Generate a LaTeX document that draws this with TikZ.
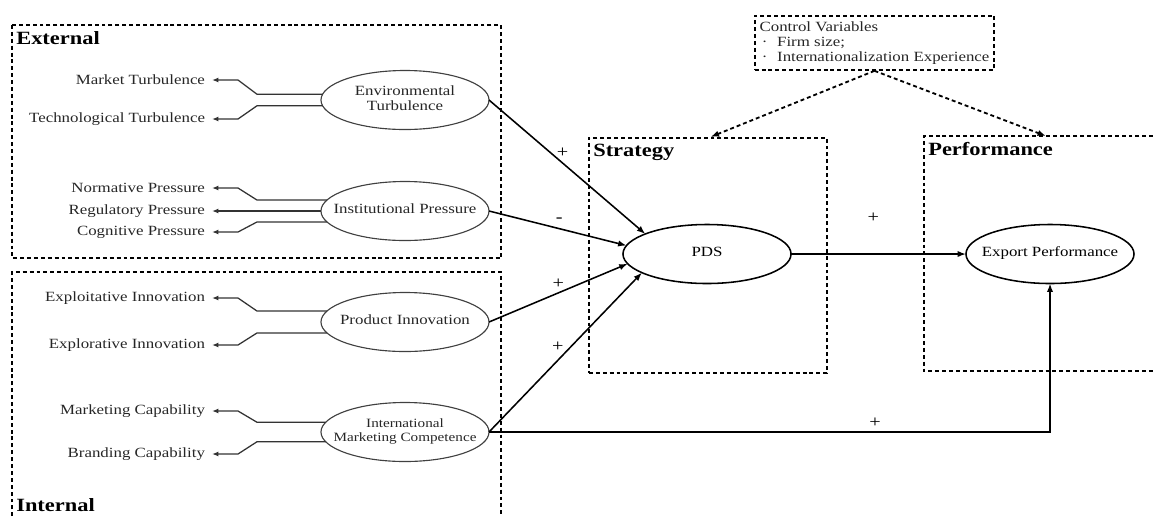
\documentclass[tikz,border=0pt]{standalone}
\usepackage{fontspec}
\setmainfont{Liberation Serif}[FakeStretch=1.2]
\usetikzlibrary{shapes.geometric,arrows.meta}

\newcommand{\inell}[1]{\makebox[0pt]{\begin{tabular}{@{}c@{}}#1\end{tabular}}}

\tikzset{
	grp/.style={draw, line width=1.3pt, dash pattern=on 2.8pt off 2.1pt},
	lat/.style={ellipse, draw=black!75, line width=0.8pt, minimum width=4.2cm, minimum height=1.475cm, inner sep=0pt, outer sep=0pt, text=black!85},
	mainlat/.style={lat, draw=black, line width=1.1pt, text=black},
	ind/.style={anchor=east, inner xsep=5pt, inner ysep=0pt, outer sep=0pt, text=black!85},
	indline/.style={draw=black!80, line width=0.9pt, -{Latex[length=4.5pt,width=3.5pt]}},
	effect/.style={line width=1.1pt, -{Latex[length=6pt,width=4.5pt]}},
	sign/.style={font=\fontsize{12}{12}\selectfont},
	head/.style={anchor=west, inner sep=0pt, font=\bfseries\fontsize{13.3}{15}\selectfont},
}

\begin{document}
\begin{tikzpicture}[x=0.025cm, y=-0.025cm, font=\fontsize{10}{10.6}\selectfont]
	\useasboundingbox (0,0) rectangle (1153,516);

	% groups
	\draw[grp] (12,25) rectangle (501,258);
	\draw[grp] (12,530) -- (12,272) -- (501,272) -- (501,530);
	\node[grp, rectangle, minimum width=5.95cm, minimum height=5.875cm, outer sep=0pt] (strat) at (708,255.5) {};
	\draw[grp] (1160,136) -- (924,136) -- (924,371) -- (1160,371);
	\coordinate (perf) at (1046,136);
	\node[head] (ext) at (16,38) {External};
	\node[head] (int) at (16,505) {Internal};
	\node[head] (stratl) at (593,152) {Strategy};
	\node[head] (perfl) at (928,149) {Performance};

	% constructs
	\node[lat] (env) at (405,100) {\inell{Environmental\\Turbulence}};
	\node[lat] (inst) at (405,211) {\inell{Institutional Pressure}};
	\node[lat] (prod) at (405,322) {\inell{Product Innovation}};
	\node[lat, font=\fontsize{9}{10}\selectfont] (imc) at (405,432) {\inell{International\\Marketing Competence}};
	\node[mainlat] (pds) at (707,254) {\inell{PDS}};
	\node[mainlat] (exp) at (1050,254) {\inell{Export Performance}};

	% indicators
	\node[ind] (mt) at (212,80) {Market Turbulence};
	\node[ind] (tt) at (212,119) {Technological Turbulence};
	\node[ind] (np) at (212,188) {Normative Pressure};
	\node[ind] (rp) at (212,211) {Regulatory Pressure};
	\node[ind] (cp) at (212,232) {Cognitive Pressure};
	\node[ind] (ei) at (212,298) {Exploitative Innovation};
	\node[ind] (xi) at (212,345) {Explorative Innovation};
	\node[ind] (mc) at (212,411) {Marketing Capability};
	\node[ind] (bc) at (212,454) {Branding Capability};
	\coordinate (kin) at (257,0);
	\coordinate (kout) at (238,0);

	\draw[indline] (env.176) -- (env.176 -| kin) -- (mt.east -| kout) -- (mt.east);
	\draw[indline] (env.184) -- (env.184 -| kin) -- (tt.east -| kout) -- (tt.east);
	\draw[indline] (inst.172) -- (inst.172 -| kin) -- (np.east -| kout) -- (np.east);
	\draw[indline] (inst.west) -- (rp.east);
	\draw[indline] (inst.188) -- (inst.188 -| kin) -- (cp.east -| kout) -- (cp.east);
	\draw[indline] (prod.172) -- (prod.172 -| kin) -- (ei.east -| kout) -- (ei.east);
	\draw[indline] (prod.188) -- (prod.188 -| kin) -- (xi.east -| kout) -- (xi.east);
	\draw[indline] (imc.173) -- (imc.173 -| kin) -- (mc.east -| kout) -- (mc.east);
	\draw[indline] (imc.187) -- (imc.187 -| kin) -- (bc.east -| kout) -- (bc.east);

	% paths
	\draw[effect] (env.east) -- (pds.162) node[sign, pos=0.47, shift={(0,-10)}] {+};
	\draw[effect] (inst.east) -- (pds.174) node[sign, pos=0.51, shift={(0,-8)}] {-};
	\draw[effect] (prod.east) -- (pds.187) node[sign, pos=0.5, shift={(0,-9)}] {+};
	\draw[effect] (imc.east) -- (pds.196) node[sign, pos=0.45, shift={(0,-14)}] {+};
	\draw[effect] (pds.east) -- (exp.west) node[sign, pos=0.47, shift={(0,-36)}] {+};
	\draw[effect] (imc.east) -| (exp.south) node[sign, pos=0.344, shift={(0,-9)}] {+};

	% controls
	\node[grp, align=left, inner xsep=3.5pt, inner ysep=4pt, text=black!85] (ctrl) at (874.5,43) {Control Variables\\ \makebox[12.5pt][l]{\,·}Firm size;\\ \makebox[12.5pt][l]{\,·}Internationalization Experience};
	\draw[grp, shorten >=2pt, -{Latex[length=6pt,width=4.5pt]}] (ctrl.south) -- (strat.north);
	\draw[grp, -{Latex[length=6pt,width=4.5pt]}] (ctrl.south) -- (perf);
\end{tikzpicture}
\end{document}
